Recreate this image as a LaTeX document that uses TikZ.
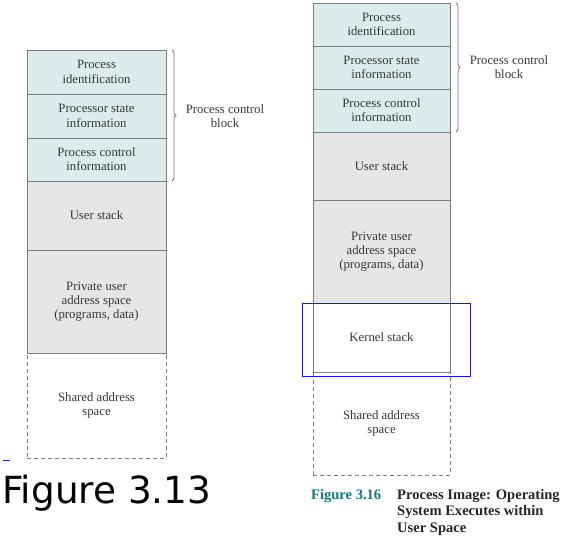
\documentclass[tikz,border=0pt]{standalone}
\usepackage{fontspec}
\setmainfont{Liberation Serif}
\newfontfamily\figsans{DejaVu Sans}
\usetikzlibrary{decorations.pathreplacing}
\definecolor{pcbfill}{RGB}{218,236,235}
\definecolor{grayfill}{RGB}{230,230,230}
\definecolor{edge}{RGB}{125,125,125}
\definecolor{txt}{RGB}{55,55,55}
\definecolor{capteal}{RGB}{20,120,120}
\definecolor{hl}{RGB}{20,20,240}
\tikzset{
  cell/.style={draw=edge, line width=0.9bp, inner sep=0pt, outer sep=0pt, anchor=north west,
    text=txt, font=\fontsize{12.8}{14.3}\selectfont, align=center},
  pcb/.style={cell, fill=pcbfill},
  gcell/.style={cell, fill=grayfill},
  wcell/.style={cell, fill=white},
  shared/.style={cell, dashed, dash pattern=on 4bp off 3bp, fill=white},
  bracestyle/.style={draw=edge, line width=0.8bp, decorate, decoration={brace, amplitude=4bp}},
  bracelabel/.style={text=txt, font=\fontsize{12.8}{14.3}\selectfont, align=center},
}
\begin{document}
\begin{tikzpicture}[x=1bp, y=-1bp]
\useasboundingbox (0,0) rectangle (578,545);
% ---------- left column ----------
\node[shared, minimum width=139bp, minimum height=105bp] (lsh) at (27,353) {Shared address\\space};
\node[pcb, minimum width=139bp, minimum height=44bp] (lpid) at (27,50) {Process\\identification};
\node[pcb, minimum width=139bp, minimum height=44bp] (lpsi) at (27,94) {Processor state\\information};
\node[pcb, minimum width=139bp, minimum height=43bp] (lpci) at (27,138) {Process control\\information};
\node[gcell, minimum width=139bp, minimum height=69bp] (lus) at (27,181) {User stack};
\node[gcell, minimum width=139bp, minimum height=103bp] (lpu) at (27,250) {Private user\\address space\\(programs, data)};
\coordinate (lbt) at (172,50);
\coordinate (lbb) at (172,181);
\draw[bracestyle] (lbt) -- (lbb);
\node[bracelabel] (lpcb) at (225,116) {Process control\\block};
\coordinate (ula) at (3,460);
\coordinate (ulb) at (10,460);
\draw[hl, line width=0.8bp] (ula) -- (ulb);
\node[anchor=west, inner sep=0pt, font=\figsans\fontsize{37.5}{40}\selectfont] (fig13) at (2,493) {Figure 3.13};
% ---------- right column ----------
\node[shared, minimum width=137bp, minimum height=103bp] (rsh) at (313,372) {Shared address\\space};
\node[pcb, minimum width=137bp, minimum height=43bp] (rpid) at (313,3) {Process\\identification};
\node[pcb, minimum width=137bp, minimum height=43bp] (rpsi) at (313,46) {Processor state\\information};
\node[pcb, minimum width=137bp, minimum height=43bp] (rpci) at (313,89) {Process control\\information};
\node[gcell, minimum width=137bp, minimum height=68bp] (rus) at (313,132) {User stack};
\node[gcell, minimum width=137bp, minimum height=103bp] (rpu) at (313,200) {Private user\\address space\\(programs, data)};
\node[wcell, minimum width=137bp, minimum height=69bp] (rks) at (313,303) {Kernel stack};
\coordinate (rbt) at (456,3);
\coordinate (rbb) at (456,132);
\draw[bracestyle] (rbt) -- (rbb);
\node[bracelabel] (rpcb) at (509,67) {Process control\\block};
\node[draw=hl, line width=1.3bp, inner sep=0pt, minimum width=168bp, minimum height=73bp, anchor=north west] (hlbox) at (302,303) {};
% caption
\node[anchor=north west, inner sep=0pt, text=capteal, font=\bfseries\fontsize{14.6}{16.5}\selectfont] (cap16) at (311,489) {Figure 3.16};
\node[anchor=north west, inner sep=0pt, align=left, text=black!85, font=\bfseries\fontsize{14.6}{16.5}\selectfont] (captxt) at (397,489) {Process Image: Operating\\System Executes within\\User Space};
\end{tikzpicture}
\end{document}
